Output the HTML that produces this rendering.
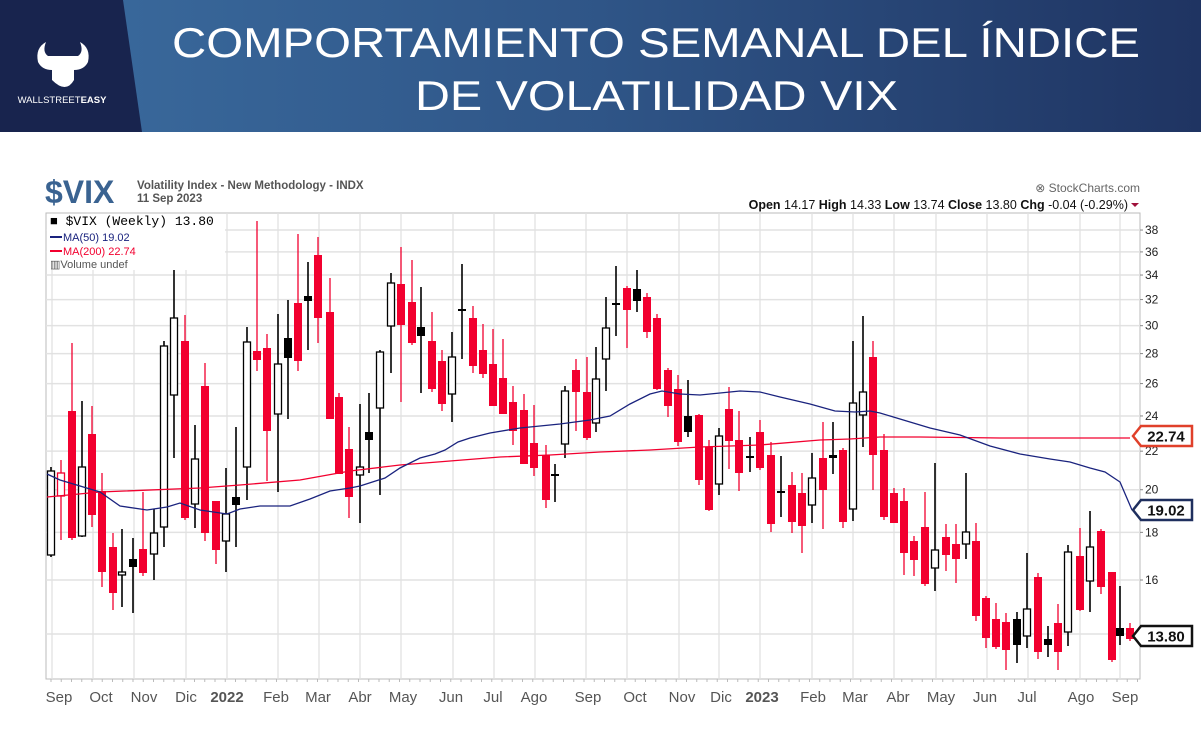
<!DOCTYPE html>
<html><head><meta charset="utf-8"><style>
html,body{margin:0;padding:0;background:#fff;width:1201px;height:741px;overflow:hidden}
svg{display:block}
</style></head><body>
<svg id="s" width="1201" height="741" xmlns="http://www.w3.org/2000/svg" font-family="Liberation Sans, sans-serif">
<defs>
<linearGradient id="hg" x1="0" x2="1" y1="0" y2="0">
<stop offset="0" stop-color="#3b6c9f"/><stop offset="0.5" stop-color="#2f5587"/><stop offset="1" stop-color="#1f3462"/>
</linearGradient>
</defs>
<rect x="0" y="0" width="1201" height="132" fill="url(#hg)"/>
<polygon points="0,0 123,0 142,132 0,132" fill="#18244e"/>
<g fill="#fff">
<path d="M38,62 q-3,-14 8,-20 q-4,10 2,14 l30,0 q6,-4 2,-14 q11,6 8,20 q-4,8 -14,8 l0,10 q-8,14 -22,0 l0,-10 q-10,0 -14,-8z"/>
</g>
<text x="62" y="103" fill="#fff" font-size="9.5" text-anchor="middle">WALLSTREET<tspan font-weight="bold">EASY</tspan></text>
<text x="172" y="57" fill="#fff" font-size="42" textLength="968" lengthAdjust="spacingAndGlyphs">COMPORTAMIENTO SEMANAL DEL ÍNDICE</text>
<text x="415" y="110" fill="#fff" font-size="42" textLength="483" lengthAdjust="spacingAndGlyphs">DE VOLATILIDAD VIX</text>

<text x="45" y="203" fill="#3a6391" font-size="32" font-weight="bold">$VIX</text>
<text x="137" y="189" fill="#555" font-size="11.5" font-weight="bold">Volatility Index - New Methodology - INDX</text>
<text x="137" y="202" fill="#555" font-size="11.5" font-weight="bold">11 Sep 2023</text>
<text x="1140" y="192" fill="#666" font-size="12" text-anchor="end">⊗ StockCharts.com</text>
<text x="1128" y="209" fill="#111" font-size="12.5" text-anchor="end"><tspan font-weight="bold">Open</tspan> 14.17  <tspan font-weight="bold">High</tspan> 14.33  <tspan font-weight="bold">Low</tspan> 13.74  <tspan font-weight="bold">Close</tspan> 13.80  <tspan font-weight="bold">Chg</tspan> -0.04 (-0.29%)</text>
<polygon points="1131,203 1139,203 1135,207" fill="#a0103a"/>
<g id="plot"></g>
</svg>
<script>
var NS="http://www.w3.org/2000/svg",g=document.getElementById('plot');
function el(t,a,txt){var e=document.createElementNS(NS,t);for(var k in a)e.setAttribute(k,a[k]);if(txt!=null)e.textContent=txt;g.appendChild(e);return e;}
function Y(v){return 1701.8-404.6*Math.log(v);}
var L=46,R=1140,T=213,B=679;
el('rect',{x:L,y:T,width:R-L,height:B-T,fill:'#fff',stroke:'#bbb','stroke-width':1});
for(var v=14;v<=38;v+=2){var y=Y(v);el('line',{x1:L,x2:R,y1:y,y2:y,stroke:'#e2e2e2','stroke-width':1.5});
el('text',{x:1145,y:y+4,'font-size':12,fill:'#222'},v);el('line',{x1:R,x2:R+3,y1:y,y2:y,stroke:'#888'});}
var gx=[52,93,134,186,227,278,319,360,401,453,494,535,586,627,679,719,760,812,853,894,936,987,1028,1080,1120];
gx.forEach(function(x){el('line',{x1:x,x2:x,y1:T,y2:B,stroke:'#e0e0e0','stroke-width':1.2});});
for(var x=51;x<R;x+=10.25)el('line',{x1:x,x2:x,y1:B,y2:B+3,stroke:'#bbb'});
var labs=[["Sep",59],["Oct",101],["Nov",144],["Dic",186],["2022",227,1],["Feb",276],["Mar",318],["Abr",360],["May",403],["Jun",451],["Jul",493],["Ago",534],["Sep",588],["Oct",635],["Nov",682],["Dic",721],["2023",762,1],["Feb",813],["Mar",855],["Abr",898],["May",941],["Jun",985],["Jul",1027],["Ago",1081],["Sep",1125]];
labs.forEach(function(l){el('text',{x:l[1],y:702,'font-size':15,fill:'#555','text-anchor':'middle','font-weight':l[2]?'bold':'normal'},l[0]);});
// MA lines
var ma200=[[47,497],[100,492],[200,488],[240,485],[300,480],[350,471],[400,465],[450,461],[500,457],[550,455],[600,452],[650,450],[700,447],[760,445],[820,440],[850,439],[880,437],[920,437],[1000,438],[1130,438]];
var ma50=[[47,474],[60,480],[100,492],[120,506],[147,510],[167,507],[180,503],[200,510],[227,514],[240,509],[260,506],[290,506],[310,499],[330,491],[350,488],[360,486],[385,478],[400,468],[420,458],[435,454],[445,450],[458,442],[470,438],[490,433],[520,428],[560,424],[590,420],[610,416],[630,404],[650,394],[662,391],[680,394],[700,395],[740,391],[760,392],[780,397],[810,404],[835,411],[855,412],[870,411],[880,413],[910,422],[930,428],[960,435],[990,446],[1020,454],[1050,459],[1070,462],[1090,468],[1105,472],[1120,482],[1132,510]];
function pl(p,c){el('polyline',{points:p.map(function(a){return a.join(',')}).join(' '),fill:'none',stroke:c,'stroke-width':1.3});}
// candles: x, wickTop, wickBot, bodyTop, bodyBot, type
var C=[[51,467,557,471,555,'w'],[61,460,540,473,496,'ro'],[72,343,540,411,538,'r'],[82,401,537,467,536,'w'],[92,406,527,434,515,'r'],[102,473,587,491,572,'r'],[113,533,610,547,593,'r'],[122,529,607,572,575,'w'],[133,538,613,559,567,'b'],[143,492,576,549,573,'r'],[154,509,580,533,554,'w'],[164,341,547,346,527,'w'],[174,262,458,318,395,'w'],[185,315,520,341,518,'r'],[195,425,528,459,504,'w'],[205,363,541,386,533,'r'],[216,501,564,501,550,'r'],[226,468,572,514,541,'w'],[236,427,547,497,505,'b'],[247,327,500,342,467,'w'],[257,221,371,351,360,'r'],[267,334,481,348,431,'r'],[278,314,492,364,414,'w'],[288,300,419,338,358,'b'],[298,234,371,303,361,'r'],[308,262,350,296,301,'b'],
[318,237,343,255,318,'r'],[330,278,419,312,419,'r'],[339,393,474,397,474,'r'],[349,427,518,449,497,'r'],[360,404,523,467,475,'w'],[369,393,473,432,440,'b'],[380,350,495,352,408,'w'],[391,273,373,283,326,'w'],[401,247,402,284,325,'r'],[412,260,345,302,343,'r'],[421,287,393,327,336,'b'],[432,312,392,341,389,'r'],[442,350,411,361,404,'r'],[452,332,422,357,394,'w'],[462,264,359,309,311,'b'],[473,306,373,318,366,'r'],[483,324,378,350,374,'r'],[493,329,405,364,406,'r'],[503,339,414,378,414,'r'],[513,386,445,402,431,'r'],[524,394,464,410,464,'r'],[534,405,476,443,468,'r'],[546,445,508,455,500,'r'],[555,464,502,474,476,'b'],[565,386,458,391,444,'w'],[576,359,431,370,392,'r'],[587,357,440,392,438,'r'],[596,347,432,379,423,'w'],[606,297,391,328,359,'w'],[616,266,336,303,305,'b'],[627,286,348,288,310,'r'],[637,270,312,289,301,'b'],[647,293,338,297,332,'r'],[657,314,390,318,389,'r'],[668,368,417,370,406,'r'],[678,375,446,389,442,'r'],[688,380,437,416,432,'b'],[699,414,485,415,480,'r'],[709,440,511,447,510,'r'],[719,428,495,436,484,'w'],[729,387,469,409,441,'r'],[739,411,491,440,473,'r'],[750,437,472,456,458,'b'],[760,420,470,432,468,'r'],[771,442,532,455,524,'r'],[781,456,517,491,493,'b'],[792,472,533,485,522,'r'],[802,473,553,493,526,'r'],[812,453,523,478,505,'w'],[823,422,529,458,490,'r'],[833,422,474,455,458,'b'],[843,448,528,450,522,'r'],[853,341,521,403,509,'w'],[863,316,447,392,415,'w'],[873,341,490,357,455,'r'],[884,434,520,450,517,'r'],[894,488,519,493,523,'r'],[904,488,575,501,553,'r'],[914,536,576,541,560,'r'],[925,492,586,527,584,'r'],[935,463,591,550,568,'w'],[946,524,571,537,555,'r'],[956,524,583,544,559,'r'],[966,473,559,532,544,'w'],[976,523,621,541,616,'r'],[986,596,648,598,638,'r'],[996,603,649,619,647,'r'],[1006,613,670,622,650,'r'],[1017,612,663,619,645,'b'],[1027,553,648,609,636,'w'],[1038,573,659,577,652,'r'],[1048,626,657,639,645,'b'],[1058,604,670,623,652,'r'],[1068,545,646,552,632,'w'],[1080,528,611,556,610,'r'],[1090,511,612,547,581,'w'],[1101,529,594,531,587,'r'],[1112,572,662,572,660,'r'],[1120,586,645,628,636,'b'],[1130,623,641,628,639,'r']];
C.forEach(function(c){var red=c[5][0]=='r',col=red?'#f2002f':'#000';
el('line',{x1:c[0],x2:c[0],y1:c[1],y2:c[2],stroke:col,'stroke-width':red?1.3:1.6});
var h=Math.max(c[4]-c[3],2);
if(c[5]=='w'||c[5]=='ro')el('rect',{x:c[0]-3.5,y:c[3],width:7,height:h,fill:'#fff',stroke:col,'stroke-width':1.3});
else el('rect',{x:c[0]-4,y:c[3],width:8,height:h,fill:col});});
pl(ma200,'#f2002f');pl(ma50,'#1a237e');
function tag(y,txt,col){el('polygon',{points:(1133)+','+y+' '+1141+','+(y-10)+' '+1192+','+(y-10)+' '+1192+','+(y+10)+' '+1141+','+(y+10),fill:'#fff',stroke:col,'stroke-width':2.5});
el('text',{x:1166,y:y+5.5,'font-size':15,'font-weight':'bold','text-anchor':'middle',fill:'#111'},txt);}
tag(436,'22.74','#e0402a');tag(510,'19.02','#1f2f5e');tag(636,'13.80','#111');
// legend
el('rect',{x:47,y:214,width:178,height:56,fill:'#fff'});
el('text',{x:50,y:225,'font-size':13,'font-family':'Liberation Mono, monospace',fill:'#000'},'■ $VIX (Weekly) 13.80');
el('line',{x1:50,x2:62,y1:237,y2:237,stroke:'#1a237e','stroke-width':2});
el('text',{x:63,y:241,'font-size':11,fill:'#1a237e'},'MA(50) 19.02');
el('line',{x1:50,x2:62,y1:251,y2:251,stroke:'#f2002f','stroke-width':2});
el('text',{x:63,y:255,'font-size':11,fill:'#f2002f'},'MA(200) 22.74');
el('text',{x:50,y:268,'font-size':11,fill:'#555'},'▥Volume undef');
</script>
</body></html>
